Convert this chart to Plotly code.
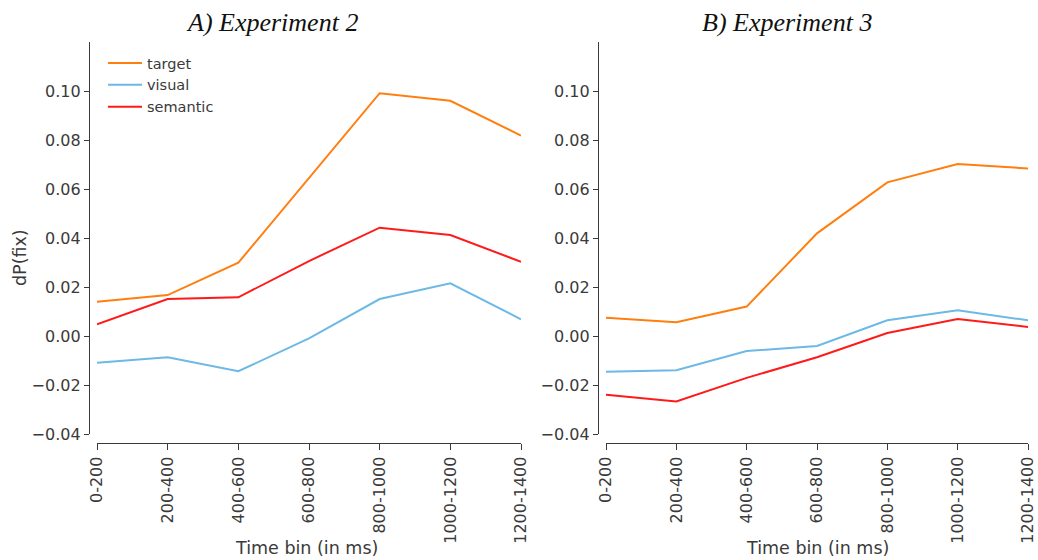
import plotly.graph_objects as go

bins = ["0-200", "200-400", "400-600", "600-800", "800-1000", "1000-1200", "1200-1400"]

# Experiment 2 (panel A)
exp2_target = [0.0140, 0.0167, 0.0299, 0.0645, 0.0991, 0.0960, 0.0818]
exp2_visual = [-0.0109, -0.0087, -0.0144, -0.0010, 0.0151, 0.0215, 0.0068]
exp2_semantic = [0.0048, 0.0151, 0.0158, 0.0306, 0.0442, 0.0412, 0.0303]

# Experiment 3 (panel B)
exp3_target = [0.0075, 0.0056, 0.0120, 0.0419, 0.0627, 0.0702, 0.0684]
exp3_visual = [-0.0146, -0.0140, -0.0061, -0.0041, 0.0064, 0.0105, 0.0064]
exp3_semantic = [-0.0240, -0.0267, -0.0171, -0.0087, 0.0012, 0.0069, 0.0037]

series_names = ["target", "visual", "semantic"]
colors = ["#ff7f0e", "#6cb9e6", "#ff1a1a"]
y_ticks = [-0.04, -0.02, 0.00, 0.02, 0.04, 0.06, 0.08, 0.10]

W, H = 1038, 560
def px(x):
    return min(1.0, max(0.0, x / W))
def py(y):
    return min(1.0, max(0.0, 1 - y / H))

fig = go.Figure()
x_idx = list(range(len(bins)))

for i, (name, vals) in enumerate(zip(series_names, [exp2_target, exp2_visual, exp2_semantic])):
    fig.add_trace(go.Scatter(x=x_idx, y=vals, mode="lines", name=name,
                             line=dict(color=colors[i], width=2),
                             xaxis="x", yaxis="y", showlegend=True))
for i, (name, vals) in enumerate(zip(series_names, [exp3_target, exp3_visual, exp3_semantic])):
    fig.add_trace(go.Scatter(x=x_idx, y=vals, mode="lines", name=name,
                             line=dict(color=colors[i], width=2),
                             xaxis="x2", yaxis="y2", showlegend=False))

axis_color = "#3a3a3a"
tickfont = dict(family="DejaVu Sans", size=16, color="#3a3a3a")

def xaxis(domain, pos):
    return dict(domain=domain, range=[0, 6], anchor="free", position=pos,
                tickvals=x_idx, ticktext=bins, tickangle=-90,
                showline=True, linecolor=axis_color, linewidth=1.3,
                ticks="outside", ticklen=6, tickwidth=1.3, tickcolor=axis_color,
                showgrid=False, zeroline=False, tickfont=tickfont,
                ticklabeloverflow="allow",
                automargin=False, fixedrange=True)

def yaxis(domain, pos):
    return dict(domain=domain, range=[-0.04, 0.12], anchor="free", position=pos,
                tickvals=y_ticks, tickformat=".2f",
                showline=True, linecolor=axis_color, linewidth=1.3,
                ticks="outside", ticklen=5, tickwidth=1.3, tickcolor=axis_color,
                showgrid=False, zeroline=False, tickfont=tickfont,
                automargin=False, fixedrange=True)

ydom = [py(434), py(42)]
fig.update_layout(
    width=W, height=H,
    margin=dict(l=0, r=0, t=0, b=0),
    paper_bgcolor="white", plot_bgcolor="white",
    xaxis=xaxis([px(97), px(521)], py(443)),
    yaxis=yaxis(ydom, px(89)),
    xaxis2=xaxis([px(606), px(1028)], py(443)),
    yaxis2=yaxis(ydom, px(598)),
    legend=dict(x=px(103), y=py(47), xanchor="left", yanchor="top",
                font=dict(family="DejaVu Sans", size=14.5, color="#3a3a3a"),
                bgcolor="rgba(0,0,0,0)", tracegroupgap=0, itemwidth=34),
    showlegend=True,
)

title_font = dict(family="Liberation Serif", size=26, color="#111111")
label_font = dict(family="DejaVu Sans", size=17.5, color="#3a3a3a")
annotations = [
    dict(text="<i>A) Experiment 2</i>", x=px(272), y=py(23), xref="paper", yref="paper",
         showarrow=False, font=title_font, xanchor="center", yanchor="middle"),
    dict(text="<i>B) Experiment 3</i>", x=px(787), y=py(23), xref="paper", yref="paper",
         showarrow=False, font=title_font, xanchor="center", yanchor="middle"),
    dict(text="Time bin (in ms)", x=px(307), y=py(548), xref="paper", yref="paper",
         showarrow=False, font=label_font, xanchor="center", yanchor="middle"),
    dict(text="Time bin (in ms)", x=px(817), y=py(548), xref="paper", yref="paper",
         showarrow=False, font=label_font, xanchor="center", yanchor="middle"),
    dict(text="dP(fix)", x=px(20), y=py(258), xref="paper", yref="paper", textangle=-90,
         showarrow=False, font=label_font, xanchor="center", yanchor="middle"),
]
fig.update_layout(annotations=annotations)

fig.write_html("out.html", config={"displayModeBar": False},
               post_script="document.body.style.margin='0';document.body.style.overflow='hidden';")
